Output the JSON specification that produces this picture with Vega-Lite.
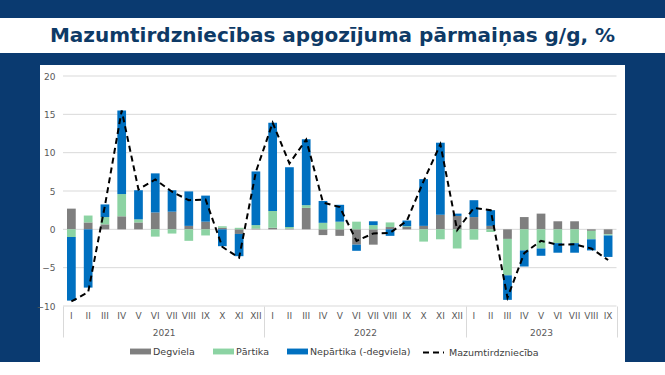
{
  "$schema": "https://vega.github.io/schema/vega-lite/v6.json",
  "background": "#0a3a70",
  "padding": {"top": 18, "left": 0, "right": 0, "bottom": 0},
  "spacing": 12,
  "center": true,
  "config": {"font": "DejaVu Sans"},
  "vconcat": [
    {
      "width": 665,
      "height": 35,
      "view": {"fill": "white", "stroke": null},
      "data": {"values": [{"t": "Mazumtirdzniecības apgozījuma pārmaiņas g/g, %"}]},
      "mark": {"type": "text", "font": "DejaVu Sans", "fontWeight": "bold", "fontSize": 20, "color": "#0e3a66"},
      "encoding": {"text": {"field": "t", "type": "nominal"}}
    },
    {
      "width": 585,
      "height": 297,
      "view": {"fill": "white", "stroke": null},
      "data": {"values": [
        {"m": "I 2021", "Degviela": 2.7, "Pārtika": -1.0, "Nepārtika (-degviela)": -8.3, "Mazumtirdzniecība": -9.4},
        {"m": "II 2021", "Degviela": 0.9, "Pārtika": 0.9, "Nepārtika (-degviela)": -7.6, "Mazumtirdzniecība": -8.2},
        {"m": "III 2021", "Degviela": 0.65, "Pārtika": 0.95, "Nepārtika (-degviela)": 1.65, "Mazumtirdzniecība": 3.1},
        {"m": "IV 2021", "Degviela": 1.7, "Pārtika": 2.9, "Nepārtika (-degviela)": 10.9, "Mazumtirdzniecība": 15.5},
        {"m": "V 2021", "Degviela": 0.9, "Pārtika": 0.4, "Nepārtika (-degviela)": 3.8, "Mazumtirdzniecība": 5.2},
        {"m": "VI 2021", "Degviela": 2.2, "Pārtika": -0.95, "Nepārtika (-degviela)": 5.1, "Mazumtirdzniecība": 6.5},
        {"m": "VII 2021", "Degviela": 2.3, "Pārtika": -0.55, "Nepārtika (-degviela)": 2.8, "Mazumtirdzniecība": 4.9},
        {"m": "VIII 2021", "Degviela": 0.45, "Pārtika": -1.5, "Nepārtika (-degviela)": 4.5, "Mazumtirdzniecība": 3.8},
        {"m": "IX 2021", "Degviela": 1.0, "Pārtika": -0.8, "Nepārtika (-degviela)": 3.4, "Mazumtirdzniecība": 3.9},
        {"m": "X 2021", "Degviela": 0.2, "Pārtika": 0.2, "Nepārtika (-degviela)": -2.2, "Mazumtirdzniecība": -2.3},
        {"m": "XI 2021", "Degviela": -0.6, "Pārtika": 0.2, "Nepārtika (-degviela)": -2.9, "Mazumtirdzniecība": -3.7},
        {"m": "XII 2021", "Degviela": 0.1, "Pārtika": 0.45, "Nepārtika (-degviela)": 7.0, "Mazumtirdzniecība": 7.5},
        {"m": "I 2022", "Degviela": 0.2, "Pārtika": 2.2, "Nepārtika (-degviela)": 11.5, "Mazumtirdzniecība": 13.9},
        {"m": "II 2022", "Degviela": 0.1, "Pārtika": 0.2, "Nepārtika (-degviela)": 7.8, "Mazumtirdzniecība": 8.6},
        {"m": "III 2022", "Degviela": 2.8, "Pārtika": 0.35, "Nepārtika (-degviela)": 8.6, "Mazumtirdzniecība": 11.7},
        {"m": "IV 2022", "Degviela": -0.75, "Pārtika": 0.85, "Nepārtika (-degviela)": 2.85, "Mazumtirdzniecība": 3.5},
        {"m": "V 2022", "Degviela": -0.85, "Pārtika": 1.0, "Nepārtika (-degviela)": 2.2, "Mazumtirdzniecība": 2.9},
        {"m": "VI 2022", "Degviela": -2.0, "Pārtika": 1.0, "Nepārtika (-degviela)": -0.8, "Mazumtirdzniecība": -1.5},
        {"m": "VII 2022", "Degviela": -2.0, "Pārtika": 0.55, "Nepārtika (-degviela)": 0.5, "Mazumtirdzniecība": -0.55},
        {"m": "VIII 2022", "Degviela": 0.3, "Pārtika": 0.6, "Nepārtika (-degviela)": -0.85, "Mazumtirdzniecība": -0.45},
        {"m": "IX 2022", "Degviela": 0.3, "Pārtika": 0.1, "Nepārtika (-degviela)": 0.75, "Mazumtirdzniecība": 1.1},
        {"m": "X 2022", "Degviela": 0.45, "Pārtika": -1.6, "Nepārtika (-degviela)": 6.1, "Mazumtirdzniecība": 6.3},
        {"m": "XI 2022", "Degviela": 1.9, "Pārtika": -1.3, "Nepārtika (-degviela)": 9.4, "Mazumtirdzniecība": 11.1},
        {"m": "XII 2022", "Degviela": 1.75, "Pārtika": -2.5, "Nepārtika (-degviela)": 0.3, "Mazumtirdzniecība": -0.1},
        {"m": "I 2023", "Degviela": 1.6, "Pārtika": -1.35, "Nepārtika (-degviela)": 2.2, "Mazumtirdzniecība": 2.8},
        {"m": "II 2023", "Degviela": 0.45, "Pārtika": -0.35, "Nepārtika (-degviela)": 2.05, "Mazumtirdzniecība": 2.5},
        {"m": "III 2023", "Degviela": -1.25, "Pārtika": -4.75, "Nepārtika (-degviela)": -3.2, "Mazumtirdzniecība": -8.9},
        {"m": "IV 2023", "Degviela": 1.6, "Pārtika": -2.75, "Nepārtika (-degviela)": -2.1, "Mazumtirdzniecība": -3.1},
        {"m": "V 2023", "Degviela": 2.05, "Pārtika": -2.5, "Nepārtika (-degviela)": -0.95, "Mazumtirdzniecība": -1.5},
        {"m": "VI 2023", "Degviela": 1.05, "Pārtika": -1.8, "Nepārtika (-degviela)": -1.25, "Mazumtirdzniecība": -2.0},
        {"m": "VII 2023", "Degviela": 1.05, "Pārtika": -1.8, "Nepārtika (-degviela)": -1.25, "Mazumtirdzniecība": -1.95},
        {"m": "VIII 2023", "Degviela": -0.2, "Pārtika": -1.1, "Nepārtika (-degviela)": -1.45, "Mazumtirdzniecība": -2.5},
        {"m": "IX 2023", "Degviela": -0.65, "Pārtika": -0.15, "Nepārtika (-degviela)": -2.8, "Mazumtirdzniecība": -4.0}
      ]},
      "layer": [
        {
          "data": {"values": [{"g": -10}, {"g": -5}, {"g": 0}, {"g": 5}, {"g": 10}, {"g": 15}, {"g": 20}]},
          "mark": {"type": "rule", "color": "#d9d9d9", "strokeWidth": 1},
          "encoding": {
            "x": {
              "datum": 0, "type": "quantitative",
              "scale": {"domain": [0, 33], "range": [23, 576.5], "nice": false, "zero": false},
              "axis": {
                "orient": "bottom", "offset": -56, "title": null,
                "values": [0, 6, 12, 18, 24, 28.5, 33],
                "labelExpr": "datum.value == 6 ? '2021' : datum.value == 18 ? '2022' : datum.value == 28.5 ? '2023' : ''",
                "grid": false, "domain": false, "ticks": true, "tickSize": 31,
                "tickColor": {"condition": {"test": "datum.value == 6 || datum.value == 18 || datum.value == 28.5", "value": "transparent"}, "value": "#d9d9d9"},
                "labelPadding": -9, "labelFontSize": 9, "labelColor": "#595959",
                "labelFlush": false, "labelOverlap": false
              }
            },
            "x2": {"datum": 33},
            "y": {
              "field": "g", "type": "quantitative",
              "scale": {"domain": [-10, 20], "range": [241, 11], "nice": false, "zero": false},
              "axis": {
                "title": null, "values": [-10, -5, 0, 5, 10, 15, 20], "grid": false,
                "domain": false, "ticks": false, "offset": -22, "labelPadding": 7,
                "labelFontSize": 9, "labelColor": "#595959"
              }
            }
          }
        },
        {
          "layer": [
            {
              "transform": [
                {"fold": ["Degviela", "Pārtika", "Nepārtika (-degviela)"], "as": ["s", "v"]},
                {"calculate": "indexof(['Degviela','Pārtika','Nepārtika (-degviela)'], datum.s)", "as": "o"}
              ],
              "mark": {"type": "bar"},
              "encoding": {
                "x": {
                  "field": "m", "type": "nominal", "sort": null,
                  "scale": {"range": [23, 576.5], "paddingInner": 0.48, "paddingOuter": 0.24},
                  "axis": {
                    "orient": "bottom", "offset": -56, "title": null, "domain": false, "ticks": false,
                    "labelPadding": 5, "labelFontSize": 9, "labelColor": "#595959", "labelAngle": 0,
                    "labelExpr": "split(datum.label, ' ')[0]"
                  }
                },
                "y": {
                  "field": "v", "type": "quantitative", "stack": "zero",
                  "scale": {"domain": [-10, 20], "range": [241, 11], "nice": false, "zero": false}
                },
                "color": {
                  "field": "s", "type": "nominal",
                  "scale": {"domain": ["Degviela", "Pārtika", "Nepārtika (-degviela)"], "range": ["#7f7f7f", "#8cd3a3", "#0070c0"]},
                  "legend": {
                    "orient": "none", "legendX": 130, "legendY": 323, "direction": "horizontal", "title": null,
                    "symbolType": "M-1,-0.28H1V0.28H-1Z", "symbolSize": 441, "symbolStrokeWidth": 0,
                    "labelFontSize": 9.5, "labelColor": "#404040", "columnPadding": 18, "labelOffset": 2, "padding": 0
                  }
                },
                "order": {"field": "o", "type": "quantitative"}
              }
            },
            {
              "mark": {"type": "line", "color": "black", "strokeWidth": 2},
              "encoding": {
                "x": {"field": "m", "type": "nominal", "sort": null},
                "y": {
                  "field": "Mazumtirdzniecība", "type": "quantitative",
                  "scale": {"domain": [-10, 20], "range": [241, 11], "nice": false, "zero": false}
                },
                "strokeDash": {
                  "datum": "Mazumtirdzniecība", "type": "nominal",
                  "scale": {"domain": ["Mazumtirdzniecība"], "range": [[6, 4]]},
                  "legend": {
                    "orient": "none", "legendX": 422, "legendY": 323, "title": null,
                    "symbolType": "stroke", "symbolSize": 441, "symbolStrokeWidth": 2, "symbolStrokeColor": "black",
                    "labelFontSize": 9.5, "labelColor": "#404040", "labelOffset": 4, "padding": 0
                  }
                }
              }
            }
          ],
          "resolve": {"scale": {"x": "shared"}, "axis": {"x": "shared"}}
        }
      ],
      "resolve": {"scale": {"x": "independent"}, "axis": {"x": "independent"}}
    }
  ]
}
